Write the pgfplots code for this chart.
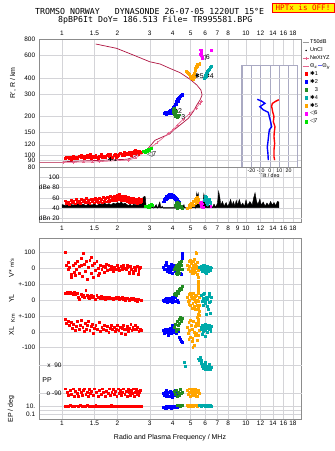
\documentclass[border=0pt]{standalone}
\usepackage{pgfplots}
\pgfplotsset{compat=1.18}
\usepackage{fontspec}
\setmainfont{Liberation Sans}
\newfontfamily\monofont{DejaVu Sans Mono}
\newfontfamily\symfont{DejaVu Sans}

\definecolor{cRed}{RGB}{255,0,0}
\definecolor{cBlue}{RGB}{0,0,255}
\definecolor{cGreen}{RGB}{34,139,34}
\definecolor{cTeal}{RGB}{0,170,170}
\definecolor{cOrange}{RGB}{255,165,0}
\definecolor{cMag}{RGB}{255,0,255}
\definecolor{cLime}{RGB}{0,225,0}
\definecolor{cMaroon}{RGB}{175,20,65}
\definecolor{cPink}{RGB}{230,100,140}
\definecolor{gridc}{RGB}{212,212,216}
\definecolor{framec}{RGB}{140,140,140}
\definecolor{darkgrid}{RGB}{120,120,120}
\definecolor{lavender}{RGB}{176,176,228}
\definecolor{insetgrid}{RGB}{170,170,195}

\pgfplotsset{
  pts/.style={only marks, mark=square*, mark size=0.95bp, color=#1,
    mark options={fill=#1, draw=#1, line width=0pt}, forget plot},
}

\begin{document}
\begin{tikzpicture}
\useasboundingbox (0,0) rectangle (335bp,451bp);
\fill[white] (0,0) rectangle (335bp,451bp);

% header
\node[anchor=base west, inner sep=0pt, font=\monofont\fontsize{8.3}{9}\selectfont] at (35bp,436bp)
  {TROMSO NORWAY~~~DYNASONDE 26-07-05 1220UT 15°E};
\node[anchor=base west, inner sep=0pt, font=\monofont\fontsize{8.3}{9}\selectfont] at (58bp,428.3bp)
  {8pBP6It DoY= 186.513 File= TR995581.BPG};
\node[draw=red, line width=0.8pt, fill=yellow, text=red, inner sep=0pt,
  minimum width=62bp, minimum height=9.5bp, font=\monofont\fontsize{7.6}{8}\selectfont]
  at (303bp,443.2bp) {HPTx is OFF!};

% ---------------- ionogram: virtual height vs frequency ----------------
\begin{axis}[xmode=log, xmin=0.7545, xmax=20.08,
  scale only axis, width=262.2bp, anchor=south west,
  axis line style={framec, line width=0.6pt},
  major tick length=0pt, minor xtick={}, minor ytick={},
  grid=major, major grid style={gridc, line width=0.5pt},
  ticklabel style={font=\fontsize{6.5}{7}\selectfont},
  /pgf/number format/assume math mode=true,
  at={(39.5bp,283.7bp)}, height=128bp,
  ymode=log, ymin=80, ymax=800,
  ytick={80,90,100,120,150,200,300,400,600,800},
  yticklabels={80,90,100,120,150,200,300,400,600,800},
  yticklabel style={xshift=-0.8bp},
  xtick={1,1.5,2,3,4,5,6,7,8,10,12,14,16,18},
  xticklabels={1,1.5,2,3,4,5,6,7,8,10,12,14,16,18},
  xticklabel pos=upper,
  legend style={at={(1,1)}, anchor=north west, xshift=0.4bp, yshift=0.2bp,
    draw=none, fill=none, font=\fontsize{5.6}{6}\selectfont,
    row sep=1.4bp, inner sep=0pt, nodes={inner sep=0.5bp}},
  legend cell align=left,
]
\addlegendimage{legend image code/.code={\draw[gray!80, line width=0.8pt] (0bp,0bp) -- (6.5bp,0bp);}}
\addlegendentry{T50dB}
\addlegendimage{legend image code/.code={\fill[black] (3.5bp,0bp) circle (0.5bp);}}
\addlegendentry{UnCl}
\addlegendimage{legend image code/.code={\draw[cPink, line width=0.6pt] (0bp,0bp) -- (6.5bp,0bp) (3.3bp,-1.6bp) -- (3.3bp,1.6bp);}}
\addlegendentry{NeXtYZ}
\addlegendimage{legend image code/.code={\draw[cPink, line width=0.7pt] (0bp,0bp) -- (6.5bp,0bp);}}
\addlegendentry{Θ\kern-0.5pt$_x$\textcolor{blue!60}{\rule[0.3em]{4bp}{0.6pt}}Θ\kern-0.5pt$_y$}
\addlegendimage{legend image code/.code={\fill[cRed] (2bp,-1.4bp) rectangle (4.8bp,1.4bp);}}
\addlegendentry{{\symfont ✱}1}
\addlegendimage{legend image code/.code={\fill[cBlue] (2bp,-1.4bp) rectangle (4.8bp,1.4bp);}}
\addlegendentry{{\symfont ✱}2}
\addlegendimage{legend image code/.code={\fill[cGreen] (2bp,-1.4bp) rectangle (4.8bp,1.4bp);}}
\addlegendentry{\phantom{\symfont ✱}3}
\addlegendimage{legend image code/.code={\fill[cTeal] (2bp,-1.4bp) rectangle (4.8bp,1.4bp);}}
\addlegendentry{{\symfont ✱}4}
\addlegendimage{legend image code/.code={\fill[cOrange] (2bp,-1.4bp) rectangle (4.8bp,1.4bp);}}
\addlegendentry{{\symfont ✱}5}
\addlegendimage{legend image code/.code={\fill[cMag] (2bp,-1.4bp) rectangle (4.8bp,1.4bp);}}
\addlegendentry{{\symfont ◁}6}
\addlegendimage{legend image code/.code={\fill[cLime] (2bp,-1.4bp) rectangle (4.8bp,1.4bp);}}
\addlegendentry{{\symfont ◁}7}

% true-height profile
\addplot[cMaroon, line width=0.7pt, forget plot] coordinates {
 (1.525,735)(1.98,680)(2.44,603)(3.0,534)(3.41,513)(3.86,474)(4.38,439)(4.96,390)
 (5.40,352)(5.69,321)(5.77,294)(5.63,269)(5.40,245)(5.17,218)(4.86,193)(4.38,171)
 (3.95,152)(3.86,146)(3.55,139)(3.20,130)(2.886,109)(2.654,103)(2.44,95.7)(2.247,92.4)
 (1.04,88.5)(1.0,87)(0.7545,87)};
% NeXtYZ
\addplot[cPink, line width=0.6pt, mark=+, mark size=1.5bp, forget plot] coordinates {
 (1.02,87.3)(1.15,87.5)(1.305,88)(1.468,88)(1.595,88.5)(2.293,91.2)(2.515,94.6)
 (2.86,107)(3.28,124)(3.78,147)(4.03,158)(4.23,171)(4.56,190)(4.92,209)(5.35,231)(5.62,253)(5.74,261)};

% echo traces
\addplot[pts=cRed] coordinates {
 (1.05,94)(1.08,96)(1.10,93)(1.12,95)(1.15,97)(1.17,94)(1.20,96)(1.22,93)(1.25,97)(1.27,95)
 (1.30,98)(1.32,94)(1.35,96)(1.37,99)(1.40,95)(1.42,97)(1.45,94)(1.48,98)(1.50,96)(1.53,99)
 (1.56,95)(1.60,97)(1.63,100)(1.66,96)(1.70,98)(1.73,95)(1.76,99)(1.80,97)(1.84,100)(1.88,96)
 (1.92,99)(1.96,101)(2.00,97)(2.04,100)(2.08,102)(2.12,98)(2.16,101)(2.20,99)(2.24,103)(2.28,100)
 (2.32,104)(2.36,101)(2.40,105)(2.44,102)(2.48,106)(2.52,103)(2.56,105)(2.60,104)(2.64,106)(2.68,105)
 (2.72,104)(1.13,92)(1.28,99)(1.43,100)(1.58,94)(1.78,101)(1.98,95)(2.18,104)(2.38,98)(2.50,108)(2.62,101)
 (1.06,95)(1.18,95)(1.33,97)(1.47,96)(1.62,98)(1.82,98)(2.02,99)(2.22,101)(2.42,103)(2.58,107)};
\addplot[pts=cLime] coordinates {
 (2.78,106)(2.82,107)(2.86,108)(2.90,109)(2.95,110)(3.00,111)(3.05,112)(2.84,105)(2.92,107)(2.98,109)};
\addplot[pts=cBlue] coordinates {
 (3.62,210)(3.66,214)(3.70,208)(3.74,216)(3.78,212)(3.82,218)(3.86,214)(3.90,222)(3.94,218)(3.98,226)
 (4.02,230)(4.05,236)(4.08,240)(4.11,246)(4.14,250)(4.17,256)(4.20,260)(4.23,266)(4.26,270)(4.30,276)
 (4.34,280)(4.38,284)(4.42,288)(4.46,292)(4.50,290)(4.54,296)(4.10,238)(4.18,248)(4.28,262)(4.36,274)
 (3.95,212)(4.00,220)};
\addplot[pts=cGreen] coordinates {
 (4.02,225)(4.05,215)(4.08,205)(4.12,200)(4.15,210)(4.18,198)(4.22,205)(4.25,195)(4.30,200)(4.10,232)
 (4.20,220)(4.35,205)};
\addplot[pts=cOrange] coordinates {
 (4.76,446)(4.80,440)(4.86,434)(4.92,428)(4.96,421)(5.02,410)(5.07,397)(5.12,392)(5.17,390)(5.22,400)
 (5.24,434)(5.28,445)(5.32,456)(5.35,466)(5.40,480)(5.45,492)(5.51,504)(5.56,512)(5.62,520)(5.10,405)
 (5.20,415)(5.30,470)(5.48,510)(5.38,490)};
\addplot[pts=cTeal] coordinates {
 (5.95,395)(6.00,402)(6.05,415)(6.10,430)(6.15,440)(6.20,450)(6.25,458)(6.30,468)(6.37,475)(6.42,482)
 (6.47,490)(6.08,410)(6.18,445)(6.35,465)};
\addplot[pts=cMag] coordinates {
 (5.65,660)(5.70,640)(5.72,620)(5.75,600)(5.78,580)(5.80,570)(5.68,610)(5.74,650)(6.50,650)};

\node[font=\fontsize{7}{7}\selectfont, inner sep=0pt] at (axis cs:1.88,92.5) {{\symfont ✱}1};
\node[font=\fontsize{7}{7}\selectfont, inner sep=0pt] at (axis cs:3.07,100.7) {{\symfont ◁}7};
\node[font=\fontsize{7}{7}\selectfont, inner sep=0pt] at (axis cs:4.22,220) {{\symfont ✱}2};
\node[font=\fontsize{7}{7}\selectfont, inner sep=0pt] at (axis cs:4.57,196) {3};
\node[font=\fontsize{7}{7}\selectfont, inner sep=0pt] at (axis cs:5.55,415) {{\symfont ✱}5};
\node[font=\fontsize{7}{7}\selectfont, inner sep=0pt] at (axis cs:6.29,415) {{\symfont ✱}4};
\node[font=\fontsize{7}{7}\selectfont, inner sep=0pt] at (axis cs:6.0,573) {{\symfont ◁}6};
\end{axis}

% ---------------- tilt inset ----------------
\begin{axis}[at={(241.7bp,283.3bp)}, anchor=south west, scale only axis,
  width=55.6bp, height=102.7bp,
  xmin=-30.4, xmax=29.4, ymode=log, ymin=79.5, ymax=504,
  axis background/.style={fill=white},
  axis line style={insetgrid, line width=0.6pt},
  major tick length=0pt, minor xtick={}, minor ytick={},
  xtick={-30,-20,-10,0,10,20}, xticklabels={,-20,-10,0,10,20},
  ytick={90,100,120,150,200,300,400}, yticklabels={},
  xmajorgrids, ymajorgrids,
  x grid style={insetgrid, line width=0.5pt},
  y grid style={gridc, line width=0.5pt},
  ticklabel style={font=\fontsize{5.3}{6}\selectfont},
  xticklabel style={yshift=2.2bp},
  xlabel={Tilt / deg}, xlabel style={font=\fontsize{5.3}{6}\selectfont, yshift=5.8bp},
]
\addplot[cRed, line width=1.4pt, forget plot] coordinates {
 (9.5,270)(6,262)(2.5,252)(1.8,240)(2.9,218)(4.3,199)(3.6,182)(5.4,166)(4.7,152)(4.3,139)
 (5.0,123)(4.3,109)(4.3,97)(5.0,91)};
\addplot[cBlue, line width=1.4pt, forget plot] coordinates {
 (-13.6,272)(-9,263)(-5.4,253)(-10.8,238)(-7.2,225)(-1.8,215)(-0.7,199)(0.7,182)(1.8,166)
 (-0.7,157)(-1.4,142)(-2.2,126)(-2.9,115)(-2.2,103)(-1.8,91)};
\end{axis}

% ---------------- echo amplitude ----------------
\begin{axis}[xmode=log, xmin=0.7545, xmax=20.08,
  scale only axis, width=262.2bp, anchor=south west,
  axis line style={framec, line width=0.6pt},
  major tick length=0pt, minor xtick={}, minor ytick={},
  grid=major, major grid style={gridc, line width=0.5pt},
  ticklabel style={font=\fontsize{6.5}{7}\selectfont},
  /pgf/number format/assume math mode=true,
  at={(39.5bp,228.7bp)}, height=55bp,
  ymin=12.4, ymax=119.7,
  ytick={40,60,80,100}, yticklabels={40,60,dBe 80,100},
  extra y ticks={20}, extra y tick labels={dBn 20},
  extra y tick style={grid style={lavender, line width=0.6pt}},
  yticklabel style={xshift=23.5bp},
  xtick={1,1.5,2,3,4,5,6,7,8,9,10,12,14,16,18},
  xticklabels={1,1.5,2,3,4,5,6,7,8,9,10,12,14,16,18},
  xticklabel style={yshift=-0.5bp},
]
\addplot[fill=black, draw=black, line width=0.4pt, forget plot] coordinates {
 (1.00,41)(1.00,47)(1.05,45)(1.10,48)(1.15,46)(1.20,49)(1.25,46)(1.30,48)(1.35,45)(1.40,49)
 (1.45,46)(1.50,48)(1.55,45)(1.60,49)(1.65,47)(1.70,50)(1.75,47)(1.80,49)(1.85,46)(1.90,50)
 (1.95,48)(2.00,51)(2.05,49)(2.10,52)(2.15,48)(2.20,50)(2.25,47)(2.30,45)(2.35,48)(2.40,44)
 (2.45,48)(2.50,46)(2.55,49)(2.60,45)(2.65,48)(2.70,52)(2.75,60)(2.80,63)(2.84,62)(2.86,44)
 (2.90,40)(3.00,39)(3.10,42)(3.15,40)(3.25,47)(3.30,40)(3.40,52)(3.45,40)(3.50,44)(3.55,40)
 (4.50,40)(4.60,47)(4.65,40)(4.85,42)(5.00,40)(5.25,46)(5.30,40)(5.35,58)(5.40,70)(5.45,62)
 (5.50,69)(5.55,56)(5.60,44)(5.75,40)(5.85,55)(5.90,68)(5.95,63)(6.00,60)(6.05,46)(6.20,42)
 (6.40,47)(6.55,41)(6.70,48)(6.85,42)(7.00,50)(7.10,73)(7.20,62)(7.30,46)(7.45,53)(7.60,44)
 (7.80,51)(7.95,43)(8.10,49)(8.25,57)(8.40,46)(8.55,53)(8.70,44)(8.85,55)(9.00,46)(9.20,57)
 (9.40,45)(9.60,50)(9.80,43)(10.0,56)(10.2,45)(10.5,53)(10.8,46)(11.0,60)(11.2,70)(11.4,54)
 (11.6,47)(11.9,58)(12.1,46)(12.4,52)(12.7,44)(13.0,50)(13.3,45)(13.6,53)(13.9,46)(14.2,51)
 (14.5,45)(14.8,53)(15.1,52)(15.1,41)(1.00,41)};
\addplot[pts=cRed] coordinates {
 (1.04,54)(1.08,51)(1.12,55)(1.16,53)(1.20,56)(1.24,54)(1.28,57)(1.32,55)(1.36,58)(1.40,55)
 (1.44,57)(1.48,56)(1.52,59)(1.56,56)(1.60,58)(1.64,57)(1.68,60)(1.72,58)(1.76,61)(1.80,59)
 (1.84,62)(1.88,60)(1.92,63)(1.96,61)(2.00,64)(2.03,62)(2.06,66)(2.10,62)(2.14,63)(2.18,60)
 (2.22,62)(2.26,59)(2.30,60)(2.34,57)(2.38,59)(2.42,56)(2.46,58)(2.50,55)(2.54,57)(2.58,55)
 (2.62,58)(2.66,56)(2.70,57)
 (1.06,49)(1.10,47)(1.14,50)(1.18,48)(1.22,51)(1.26,49)(1.30,52)(1.34,50)(1.38,51)(1.42,49)
 (1.46,52)(1.50,50)(1.54,53)(1.58,51)(1.62,52)(1.66,50)(1.70,53)(1.74,52)(1.78,54)(1.82,53)
 (1.86,55)(1.90,54)(1.94,56)(1.98,55)(2.02,57)(2.06,58)(2.10,55)(2.14,57)(2.18,54)(2.22,56)
 (2.26,53)(2.30,54)(2.34,51)(2.38,53)(2.42,50)(2.46,52)(2.50,50)(2.54,51)(2.58,49)(2.62,51)
 (2.66,50)(2.70,52)};
\addplot[pts=cLime] coordinates {(2.85,43)(2.90,44)(2.95,42)(3.00,45)(3.05,47)(3.10,46)(3.00,42)};
\addplot[pts=cBlue] coordinates {
 (3.55,52)(3.60,56)(3.65,59)(3.70,62)(3.75,63)(3.80,65)(3.85,66)(3.90,65)(3.95,66)(4.00,64)
 (4.05,65)(4.10,63)(4.15,60)(4.20,58)(4.25,56)(4.30,53)(4.35,51)(3.60,52)(3.70,57)(3.80,60)
 (3.90,61)(4.00,60)(4.10,58)(4.20,54)(3.75,58)(3.95,62)(4.15,56)};
\addplot[pts=cGreen] coordinates {
 (4.15,46)(4.20,50)(4.25,52)(4.30,48)(4.35,45)(4.40,42)(4.45,44)(4.50,40)(4.20,44)(4.30,42)
 (4.38,50)(4.25,40)};
\addplot[pts=cOrange] coordinates {
 (4.80,40)(4.90,43)(4.95,46)(5.00,48)(5.05,50)(5.10,47)(5.15,51)(5.20,54)(5.25,52)(5.30,56)
 (5.35,58)(5.40,55)(5.45,60)(5.50,57)(5.55,53)(5.00,42)(5.20,45)(5.35,48)(5.45,50)};
\addplot[pts=cMag] coordinates {(5.65,50)(5.70,46)(5.75,44)(5.80,48)(5.85,42)(5.70,52)(6.45,44)};
\addplot[pts=cTeal] coordinates {
 (5.95,55)(6.00,58)(6.05,62)(6.10,60)(6.15,56)(6.20,52)(6.25,50)(6.30,54)(6.35,57)(6.40,52)
 (6.45,48)(6.10,50)(6.20,47)};
\end{axis}

% ---------------- velocities, locations, polarisation ----------------
\begin{axis}[xmode=log, xmin=0.7545, xmax=20.08,
  scale only axis, width=262.2bp, anchor=south west,
  axis line style={framec, line width=0.6pt},
  major tick length=0pt, minor xtick={}, minor ytick={},
  grid=major, major grid style={gridc, line width=0.5pt},
  ticklabel style={font=\fontsize{6.5}{7}\selectfont},
  /pgf/number format/assume math mode=true,
  at={(39.5bp,32bp)}, height=180.7bp,
  ymin=0, ymax=180.7,
  ytick={5,9,12.3,71.3,86.7,102.7,118.7,135,150.7,166.7},
  yticklabels={0.1,,10.,-100,0,+-100,0,+-100,0,100},
  yticklabel style={xshift=-0.8bp},
  extra y ticks={25.3,53.7}, extra y tick labels={,},
  extra y tick style={grid style={darkgrid, line width=0.6pt}},
  xtick={1,1.5,2,3,4,5,6,7,8,10,12,14,16,18},
  xticklabels={1,1.5,2,3,4,5,6,7,8,10,12,14,16,18},
  xticklabel style={yshift=1.5bp},
]
% V* (m/s)
\addplot[pts=cRed, y filter/.expression={150.7+0.16*y}] coordinates {
 (1.05,100)(1.06,20)(1.08,-10)(1.10,5)(1.12,-40)(1.13,-60)(1.15,15)(1.17,-25)(1.18,30)(1.20,-5)
 (1.22,45)(1.24,-35)(1.25,10)(1.27,60)(1.29,-50)(1.31,95)(1.32,25)(1.34,-20)(1.36,40)(1.38,-70)
 (1.40,5)(1.42,50)(1.44,-30)(1.46,15)(1.48,-55)(1.50,30)(1.52,-15)(1.55,45)(1.57,0)(1.60,-35)
 (1.62,20)(1.65,-10)(1.68,10)(1.70,-25)(1.73,5)(1.76,-15)(1.80,15)(1.83,-5)(1.86,10)(1.90,-20)
 (1.93,5)(1.96,-10)(2.00,15)(2.03,0)(2.06,-15)(2.10,10)(2.13,-5)(2.17,20)(2.20,0)(2.24,-10)
 (2.28,5)(2.32,-25)(2.36,10)(2.40,-5)(2.44,-35)(2.48,5)(2.52,-15)(2.56,10)(2.60,-40)(2.64,0)
 (2.68,5)(1.09,35)(1.19,-45)(1.28,15)(1.45,70)(1.58,-45)(1.75,25)(1.88,0)(2.02,-5)(2.15,5)
 (2.26,15)(2.38,-10)(2.50,0)(2.62,-20)(2.34,-30)(2.46,-20)};
\addplot[pts=cBlue, y filter/.expression={150.7+0.16*y}] coordinates {
 (3.55,5)(3.60,-10)(3.65,15)(3.70,-5)(3.72,20)(3.75,-20)(3.80,0)(3.83,10)(3.85,-25)(3.88,5)
 (3.90,-15)(3.93,25)(3.95,-5)(3.98,10)(4.00,-30)(4.03,0)(4.05,15)(4.08,-10)(4.10,5)(4.13,-20)
 (4.15,20)(4.20,-5)(4.25,10)(4.30,-15)(4.35,0)(4.50,95)(4.52,75)(4.50,60)(3.70,35)(4.40,-35)(4.45,-40)};
\addplot[pts=cGreen, y filter/.expression={150.7+0.16*y}] coordinates {
 (4.10,-10)(4.15,5)(4.18,-30)(4.20,15)(4.22,-20)(4.25,0)(4.28,25)(4.30,-15)(4.32,10)(4.35,-35)
 (4.38,5)(4.40,30)(4.42,-5)(4.45,20)(4.48,40)(4.50,-10)(4.25,-40)(4.35,35)};
\addplot[pts=cOrange, y filter/.expression={150.7+0.16*y}] coordinates {
 (4.80,20)(4.85,-5)(4.90,40)(4.95,10)(5.00,-20)(5.05,30)(5.10,0)(5.12,-35)(5.15,15)(5.20,45)
 (5.22,-10)(5.25,5)(5.30,25)(5.32,-25)(5.35,100)(5.40,10)(5.42,-40)(5.45,35)(5.48,0)(5.50,-15)
 (5.00,50)(5.20,-30)(4.90,-10)(5.38,95)(5.15,-20)(5.27,55)};
\addplot[pts=cTeal, y filter/.expression={150.7+0.16*y}] coordinates {
 (5.60,5)(5.70,-10)(5.75,10)(5.80,-20)(5.85,0)(5.90,-15)(5.95,15)(6.00,-5)(6.05,-25)(6.10,5)
 (6.15,-10)(6.20,10)(6.25,-20)(6.30,0)(6.35,-5)(6.40,8)(6.45,-15)(6.50,2)(5.90,20)(6.10,-30)};
% YL (km)
\addplot[pts=cRed, y filter/.expression={118.7+0.16*y}] coordinates {
 (1.05,45)(1.07,50)(1.09,40)(1.11,48)(1.13,42)(1.15,35)(1.17,50)(1.19,38)(1.21,45)(1.23,20)
 (1.25,5)(1.27,35)(1.29,25)(1.31,30)(1.33,15)(1.35,60)(1.37,28)(1.39,20)(1.41,10)(1.43,25)
 (1.45,32)(1.47,15)(1.49,22)(1.52,5)(1.55,28)(1.58,18)(1.61,8)(1.64,22)(1.67,12)(1.70,20)
 (1.73,5)(1.76,15)(1.79,10)(1.82,18)(1.85,8)(1.88,14)(1.91,2)(1.94,12)(1.97,20)(2.00,8)
 (2.03,15)(2.06,5)(2.09,12)(2.12,18)(2.15,6)(2.18,10)(2.22,0)(2.26,14)(2.30,8)(2.34,-2)
 (2.38,10)(2.42,5)(2.46,12)(2.50,0)(2.54,8)(2.58,-5)(2.62,6)(2.66,2)(2.70,-3)};
\addplot[pts=cBlue, y filter/.expression={118.7+0.16*y}] coordinates {
 (3.55,0)(3.60,-10)(3.65,5)(3.70,-5)(3.75,-15)(3.80,0)(3.85,10)(3.90,-8)(3.95,2)(4.00,-12)
 (4.05,5)(4.10,-5)(4.15,15)(4.20,-10)(4.25,0)(4.30,-15)(3.70,12)(4.00,20)};
\addplot[pts=cGreen, y filter/.expression={118.7+0.16*y}] coordinates {
 (4.10,35)(4.15,45)(4.20,40)(4.25,55)(4.30,50)(4.33,65)(4.36,60)(4.40,75)(4.45,70)(4.50,85)
 (4.20,30)(4.28,45)};
\addplot[pts=cOrange, y filter/.expression={118.7+0.16*y}] coordinates {
 (4.80,20)(4.85,-10)(4.90,35)(4.95,0)(5.00,-30)(5.05,25)(5.10,-50)(5.12,10)(5.15,-20)(5.20,40)
 (5.22,-40)(5.25,5)(5.30,-60)(5.32,25)(5.35,-15)(5.40,30)(5.42,-35)(5.45,0)(5.50,140)(5.52,120)
 (5.55,100)(5.50,80)(5.55,60)(5.52,40)(5.58,20)(5.55,-10)(5.60,-30)(5.55,-50)(5.58,-70)(5.52,-90)
 (5.60,-95)(5.00,45)(5.10,15)(4.90,-25)(5.30,-5)(5.45,-60)};
\addplot[pts=cTeal, y filter/.expression={118.7+0.16*y}] coordinates {
 (5.70,30)(5.80,-10)(5.85,10)(5.90,-30)(5.95,40)(6.00,0)(6.05,-20)(6.10,20)(6.15,-40)(6.20,5)
 (6.25,-60)(6.30,-15)(6.35,25)(6.40,-80)(6.45,-5)(6.50,15)(6.10,-90)(5.90,35)(6.30,45)};
% XL (km)
\addplot[pts=cRed, y filter/.expression={86.7+0.16*y}] coordinates {
 (1.05,80)(1.06,55)(1.08,70)(1.10,40)(1.12,60)(1.14,25)(1.16,50)(1.18,10)(1.20,35)(1.22,65)
 (1.24,15)(1.26,45)(1.28,75)(1.30,30)(1.32,5)(1.34,55)(1.36,20)(1.38,40)(1.40,70)(1.42,10)
 (1.44,35)(1.46,50)(1.48,-5)(1.50,25)(1.53,45)(1.56,15)(1.59,60)(1.62,5)(1.65,30)(1.68,20)
 (1.71,45)(1.74,10)(1.77,35)(1.80,0)(1.83,25)(1.86,40)(1.89,15)(1.92,30)(1.95,5)(1.98,20)
 (2.01,45)(2.04,10)(2.07,30)(2.10,-10)(2.13,25)(2.16,40)(2.19,15)(2.22,-15)(2.25,20)(2.28,35)
 (2.31,5)(2.34,25)(2.37,50)(2.40,10)(2.43,30)(2.46,20)(2.50,40)(2.54,15)(2.58,30)(2.62,5)
 (2.66,20)(2.70,10)};
\addplot[pts=cBlue, y filter/.expression={86.7+0.16*y}] coordinates {
 (3.55,10)(3.60,-5)(3.65,20)(3.70,0)(3.75,15)(3.80,-10)(3.85,5)(3.90,25)(3.95,-5)(4.00,10)
 (4.05,30)(4.10,0)(4.15,15)(4.20,-10)(4.25,20)(4.30,5)(4.35,-30)(4.40,-45)(4.50,-65)(4.45,-55)
 (3.80,-20)(4.00,40)};
\addplot[pts=cGreen, y filter/.expression={86.7+0.16*y}] coordinates {
 (4.10,30)(4.15,50)(4.20,20)(4.25,65)(4.30,40)(4.33,80)(4.36,55)(4.40,90)(4.45,70)(4.50,85)
 (4.20,5)(4.30,15)};
\addplot[pts=cOrange, y filter/.expression={86.7+0.16*y}] coordinates {
 (4.80,30)(4.85,-10)(4.90,60)(4.95,10)(5.00,-30)(5.05,40)(5.10,-60)(5.12,20)(5.15,-40)(5.20,70)
 (5.22,0)(5.25,-80)(5.30,35)(5.32,-20)(5.35,55)(5.40,-5)(5.42,-50)(5.45,90)(5.50,80)(5.52,60)
 (5.55,40)(5.58,10)(5.50,-20)(4.90,-45)(5.00,75)(5.15,-95)};
\addplot[pts=cTeal, y filter/.expression={86.7+0.16*y}] coordinates {
 (5.70,30)(5.75,15)(5.80,45)(5.85,20)(5.90,5)(5.95,35)(6.00,50)(6.05,10)(6.10,25)(6.15,40)
 (6.20,0)(6.25,30)(6.30,15)(6.35,45)(6.40,20)(6.45,5)(6.50,35)(6.00,-25)(5.80,-15)};
% PP (deg)
\addplot[pts=cRed, y filter/.expression={39.5+0.1578*y}] coordinates {
 (1.05,-60)(1.07,-80)(1.09,-100)(1.11,-70)(1.13,-95)(1.15,-60)(1.17,-110)(1.19,-75)(1.21,-90)(1.23,-105)
 (1.25,-65)(1.27,-85)(1.29,-100)(1.31,-70)(1.33,-60)(1.35,-95)(1.37,-80)(1.39,-110)(1.41,-65)(1.43,-90)
 (1.45,-75)(1.48,-100)(1.51,-60)(1.54,-85)(1.57,-105)(1.60,-70)(1.63,-95)(1.66,-60)(1.69,-85)(1.72,-110)
 (1.75,-75)(1.78,-90)(1.81,-60)(1.84,-100)(1.87,-80)(1.90,-65)(1.93,-95)(1.96,-75)(1.99,-110)(2.02,-60)
 (2.05,-90)(2.08,-70)(2.11,-100)(2.14,-80)(2.17,-60)(2.20,-95)(2.23,-75)(2.26,-105)(2.29,-65)(2.32,-85)
 (2.35,-100)(2.38,-70)(2.41,-90)(2.44,-60)(2.47,-105)(2.50,-80)(2.53,-65)(2.56,-95)(2.59,-75)(2.62,-100)
 (2.65,-85)(2.68,-70)};
\addplot[pts=cBlue, y filter/.expression={39.5+0.1578*y}] coordinates {
 (3.55,-90)(3.60,-100)(3.65,-80)(3.70,-110)(3.75,-95)(3.80,-85)(3.85,-105)(3.90,-75)(3.95,-95)(4.00,-115)
 (4.05,-85)(4.10,-100)(4.15,-70)(4.20,-90)(4.25,-105)(4.30,-80)(3.70,-70)(4.00,-90)};
\addplot[pts=cGreen, y filter/.expression={39.5+0.1578*y}] coordinates {
 (4.10,-75)(4.15,-95)(4.20,-70)(4.25,-110)(4.30,-85)(4.35,-100)(4.40,-65)(4.45,-90)(4.50,-80)};
\addplot[pts=cOrange, y filter/.expression={39.5+0.1578*y}] coordinates {
 (4.80,-70)(4.85,-95)(4.90,-60)(4.95,-85)(5.00,-105)(5.05,-75)(5.10,-90)(5.15,-60)(5.20,-100)(5.25,-80)
 (5.30,-65)(5.35,-95)(5.40,-75)(5.45,-105)(5.50,-85)(5.55,-70)(5.60,-90)(5.00,-60)(5.20,-75)(5.40,-110)};
\addplot[pts=cTeal, y filter/.expression={39.5+0.1578*y}] coordinates {
 (4.65,110)(4.70,80)(5.50,130)(5.60,120)(5.70,100)(5.80,85)(5.85,70)(5.90,95)(5.95,75)(6.00,65)
 (6.05,90)(6.10,70)(6.15,85)(6.20,60)(6.25,80)(6.30,95)(6.35,70)(6.40,65)(6.50,75)(5.75,120)
 (6.00,110)(5.65,140)};
% EP (deg, logarithmic)
\addplot[pts=cRed, y filter/.expression={5+3.65*(log10(y)+1)}] coordinates {
 (1.05,15)(1.08,12)(1.11,18)(1.14,14)(1.17,11)(1.20,16)(1.23,13)(1.26,19)(1.29,12)(1.32,15)
 (1.35,10)(1.38,17)(1.41,13)(1.44,15)(1.47,11)(1.50,14)(1.53,18)(1.56,12)(1.59,15)(1.62,10)
 (1.65,13)(1.68,16)(1.71,12)(1.74,14)(1.77,11)(1.80,15)(1.83,13)(1.86,17)(1.89,11)(1.92,14)
 (1.95,12)(1.98,16)(2.01,13)(2.04,10)(2.07,15)(2.10,12)(2.13,14)(2.16,11)(2.19,16)(2.22,13)
 (2.25,15)(2.28,11)(2.31,14)(2.34,12)(2.37,16)(2.40,13)(2.43,10)(2.46,14)(2.49,12)(2.52,15)
 (2.55,11)(2.58,13)(2.61,16)(2.64,12)(2.67,14)(2.70,11)};
\addplot[pts=cBlue, y filter/.expression={5+3.65*(log10(y)+1)}] coordinates {
 (3.55,5)(3.60,8)(3.65,4)(3.70,10)(3.75,6)(3.80,12)(3.85,5)(3.90,9)(3.95,3)(4.00,7)
 (4.05,11)(4.10,5)(4.15,8)(4.20,14)(4.25,6)(4.30,10)(3.70,3)(4.00,15)};
\addplot[pts=cGreen, y filter/.expression={5+3.65*(log10(y)+1)}] coordinates {
 (4.30,18)(4.35,22)(4.40,15)(4.45,25)(4.50,20)(4.25,17)};
\addplot[pts=cOrange, y filter/.expression={5+3.65*(log10(y)+1)}] coordinates {
 (4.80,20)(4.85,15)(4.90,25)(4.95,18)(5.00,13)(5.05,22)(5.10,17)(5.15,26)(5.20,14)(5.25,20)
 (5.30,16)(5.35,24)(5.40,19)(5.45,14)(5.50,21)(5.55,17)(5.60,23)};
\addplot[pts=cTeal, y filter/.expression={5+3.65*(log10(y)+1)}] coordinates {
 (5.60,18)(5.70,24)(5.75,14)(5.80,20)(5.90,16)(5.95,25)(6.00,12)(6.05,19)(6.10,22)(6.20,15)
 (6.25,20)(6.30,10)(6.35,17)(6.40,23)(6.50,14)};
\end{axis}

% axis titles
\begin{scope}[font=\fontsize{7}{8}\selectfont, inner sep=0pt]
\node[rotate=90] at (13bp,368bp) {R', R / km};
\node[rotate=90] at (11.5bp,183bp) {V* {\fontsize{5.5}{6}\selectfont m/s}};
\node[rotate=90] at (11.5bp,152.5bp) {YL};
\node[rotate=90, font=\fontsize{5.5}{6}\selectfont] at (13bp,133bp) {Km};
\node[rotate=90] at (11.5bp,120bp) {XL};
\node[rotate=90] at (11bp,42bp) {EP / deg};
\node at (47bp,71bp) {PP};
\node[anchor=east, font=\fontsize{6.5}{7}\selectfont] at (61.7bp,85.7bp) {x\ \ 90};
\node[anchor=east, font=\fontsize{6.5}{7}\selectfont] at (61.7bp,57.3bp) {o -90};
\node at (170bp,13bp) {Radio and Plasma Frequency / MHz};
\end{scope}
\end{tikzpicture}
\end{document}
